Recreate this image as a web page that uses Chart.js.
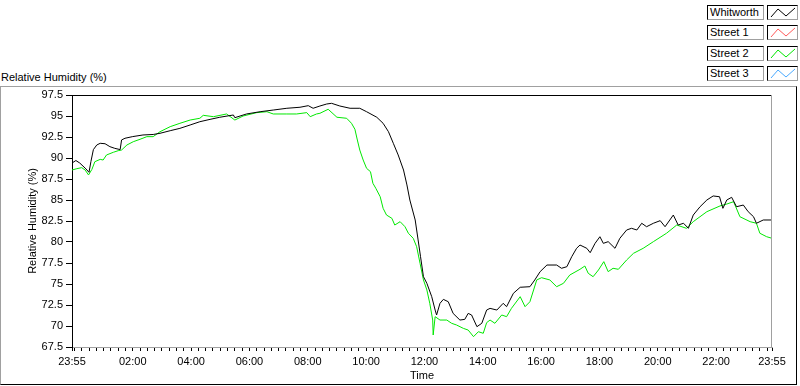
<!DOCTYPE html>
<html>
<head>
<meta charset="utf-8">
<title>Relative Humidity</title>
<script src="https://cdn.jsdelivr.net/npm/chart.js@4.4.1/dist/chart.umd.min.js"></script>
<style>
  html, body { margin: 0; padding: 0; background: #fff; }
  #wrap { position: relative; width: 800px; height: 386px; overflow: hidden;
          font-family: "Liberation Sans", Arial, sans-serif; font-size: 11px; color: #000; }
  #panel { position: absolute; left: 0; top: 86px; width: 797px; height: 299px; box-sizing: border-box;
           border: 1px solid; border-color: #a0a0a0 #000 #000 #a0a0a0; }
  #title { position: absolute; left: 1px; top: 71px; line-height: 13px; white-space: nowrap; }
  #rh-chart { position: absolute; left: 0; top: 0; }
  #legend { position: absolute; left: 707px; top: 5px; }
  .row { display: flex; height: 15px; margin-bottom: 5.4px; }
  .name { width: 57px; height: 15px; box-sizing: border-box; border: 1px solid;
          border-color: #000 #a0a0a0 #a0a0a0 #000; padding-left: 2px; line-height: 13px; background: #fff; }
  .swatch { width: 31px; height: 15px; margin-left: 3px; box-sizing: border-box; border: 1px solid;
            border-color: #000 #a0a0a0 #a0a0a0 #000; background: #fff; }
  .swatch svg { display: block; }
</style>
</head>
<body>
<div id="wrap">
  <div id="panel"></div>
  <div id="title">Relative Humidity (%)</div>
  <canvas id="rh-chart" width="800" height="386"></canvas>
  <div id="legend"></div>
</div>
<script>
// minutes since 23:55 and relative humidity (%)
var whitworthTime = [0,8,16,27,35,39,44,51,58,68,78,88,99,102,109,125,146,167,181,202,222,243,263,284,304,332,335,359,387,414,442,469,486,496,510,524,534,551,572,592,606,627,640,651,661,671,682,689,695,706,712,717,723,730,740,747,750,757,764,774,784,798,808,815,822,833,843,853,860,874,887,894,908,922,942,952,963,977,997,1007,1018,1028,1038,1045,1059,1066,1076,1086,1093,1103,1117,1127,1141,1151,1162,1172,1182,1196,1210,1220,1237,1247,1258,1268,1278,1292,1306,1319,1332,1339,1347,1357,1367,1381,1391,1402,1408,1422,1440];
var whitworthRH = [89.4,89.7,89.4,88.8,88.3,89.6,91.0,91.55,91.75,91.7,91.35,91.15,91.0,92.15,92.35,92.55,92.74,92.8,92.94,93.25,93.53,93.93,94.32,94.6,94.85,95.12,94.8,95.24,95.51,95.71,95.92,96.04,96.23,95.92,96.19,96.43,96.51,96.19,95.92,95.92,95.51,94.85,94.13,93.13,91.75,90.36,88.57,86.79,85.0,82.62,80.24,78.25,75.87,75.08,73.49,71.9,71.31,72.7,73.17,72.89,71.5,70.71,70.79,71.5,71.31,69.92,70.32,71.9,72.1,71.9,72.7,72.3,73.89,74.61,74.68,75.48,76.47,77.26,77.26,76.87,77.06,78.25,79.25,79.64,79.25,78.73,79.84,80.63,79.84,80.04,79.25,80.44,81.43,81.63,81.43,82.23,81.82,82.23,82.54,81.82,83.21,82.02,82.23,81.63,83.21,84.2,85.0,85.48,85.39,84.01,85.0,85.32,84.2,84.4,83.61,83.01,82.23,82.62,82.62];

var street2Time = [0,10,20,27,34,41,47,58,64,71,85,95,102,113,126,140,154,167,181,202,222,243,263,270,291,318,335,352,380,401,414,442,462,483,490,503,510,527,545,565,575,582,587,592,599,606,614,619,625,634,640,647,658,664,675,685,692,702,709,716,723,730,736,742,743,747,757,771,781,791,805,815,826,836,846,853,860,870,884,894,904,922,932,942,956,966,983,997,1011,1024,1045,1055,1062,1072,1083,1094,1103,1113,1124,1141,1155,1175,1196,1223,1244,1264,1278,1306,1333,1347,1361,1374,1395,1408,1415,1429,1440];
var street2RH = [88.57,88.73,88.85,88.57,87.98,88.65,89.56,89.84,89.76,90.36,90.68,90.87,90.95,91.55,91.94,92.23,92.54,92.54,93.13,93.73,94.13,94.52,94.73,95.08,94.92,95.24,94.52,95.0,95.4,95.51,95.24,95.24,95.24,95.4,94.92,95.24,95.32,95.8,94.85,94.73,94.13,93.42,92.14,90.95,89.76,88.77,88.37,86.99,86.39,85.39,84.01,83.21,82.82,82.02,82.42,81.82,81.04,80.44,79.44,77.46,75.48,74.29,72.7,70.71,68.93,71.11,70.71,70.71,70.32,70.12,69.72,69.52,68.73,69.32,69.13,70.4,70.71,70.32,71.31,71.11,72.1,73.49,72.3,72.89,75.48,75.75,75.48,74.68,75.08,76.07,76.75,77.14,76.27,75.87,76.67,77.66,76.47,76.87,76.75,77.86,78.65,79.25,80.04,81.04,82.02,81.63,82.42,83.61,84.29,84.52,84.8,83.01,82.42,82.23,81.04,80.63,80.44];

var xMajorMinutes = [0,125,245,365,485,605,725,845,965,1085,1205,1325,1440];
var xMajorLabels = ['23:55','02:00','04:00','06:00','08:00','10:00','12:00','14:00','16:00','18:00','20:00','22:00','23:55'];

function toPoints(times, values) {
  return times.map(function(t, i){ return {x: t, y: values[i]}; });
}

// every 15 minutes, plus both ends
var xTickMinutes = [0];
for (var m = 5; m < 1440; m += 15) xTickMinutes.push(m);
xTickMinutes.push(1440);

var framePlugin = {
  id: 'plotFrame',
  afterDraw: function(chart) {
    var a = chart.chartArea, c = chart.ctx;
    c.save();
    c.lineWidth = 1;
    c.strokeStyle = '#000';
    c.beginPath(); c.moveTo(a.left, Math.round(a.top) + 0.5); c.lineTo(a.right, Math.round(a.top) + 0.5); c.stroke();
    c.strokeStyle = '#a0a0a0';
    c.beginPath(); c.moveTo(Math.round(a.right) - 0.5, a.top); c.lineTo(Math.round(a.right) - 0.5, a.bottom); c.stroke();
    c.restore();
  }
};

var font = { family: '"Liberation Sans", Arial, sans-serif', size: 11 };

var rhChart = new Chart(document.getElementById('rh-chart'), {
  type: 'line',
  data: {
    datasets: [
      { label: 'Whitworth', data: toPoints(whitworthTime, whitworthRH), borderColor: '#000000' },
      { label: 'Street 1', data: [], borderColor: '#ff5a5a' },
      { label: 'Street 2', data: toPoints(street2Time, street2RH), borderColor: '#00e800' },
      { label: 'Street 3', data: [], borderColor: '#4aaaff' }
    ]
  },
  options: {
    responsive: false,
    animation: false,
    devicePixelRatio: 1,
    parsing: false,
    layout: { padding: { top: 95, right: 28, left: 0, bottom: 0 } },
    elements: {
      line: { borderWidth: 1, tension: 0 },
      point: { radius: 0, hoverRadius: 0 }
    },
    plugins: { legend: { display: false }, tooltip: { enabled: false } },
    scales: {
      x: {
        type: 'linear',
        min: 0,
        max: 1440,
        afterBuildTicks: function(scale) {
          scale.ticks = xTickMinutes.map(function(v){ return {value: v}; });
        },
        afterFit: function(scale) { scale.height = 39; },
        border: { color: '#a0a0a0', width: 1 },
        grid: { drawOnChartArea: false, tickLength: 4, tickColor: '#000' },
        ticks: {
          autoSkip: false, maxRotation: 0, minRotation: 0, padding: 4,
          color: '#000', font: font,
          callback: function(value) {
            var i = xMajorMinutes.indexOf(value);
            return i >= 0 ? xMajorLabels[i] : '';
          }
        },
        title: { display: true, text: 'Time', color: '#000', font: font, padding: { top: 0, bottom: 3 } }
      },
      y: {
        min: 67.5,
        max: 97.5,
        afterFit: function(scale) { scale.width = 72; },
        border: { color: '#000', width: 1 },
        grid: { drawOnChartArea: false, tickLength: 6, tickColor: '#000' },
        ticks: { stepSize: 2.5, padding: 3, color: '#000', font: font },
        title: { display: true, text: 'Relative Humidity (%)', color: '#000', font: font, padding: { top: 26, bottom: 0 } }
      }
    }
  },
  plugins: [framePlugin]
});

// boxed legend built from the chart's datasets
var legendEl = document.getElementById('legend');
rhChart.data.datasets.forEach(function(ds) {
  var row = document.createElement('div');
  row.className = 'row';
  row.innerHTML = '<div class="name">' + ds.label + '</div>' +
    '<div class="swatch"><svg width="29" height="13"><polyline fill="none" stroke="' + ds.borderColor +
    '" stroke-width="1" points="3,11 10,3 18,10 27,2"/></svg></div>';
  legendEl.appendChild(row);
});
</script>
</body>
</html>
